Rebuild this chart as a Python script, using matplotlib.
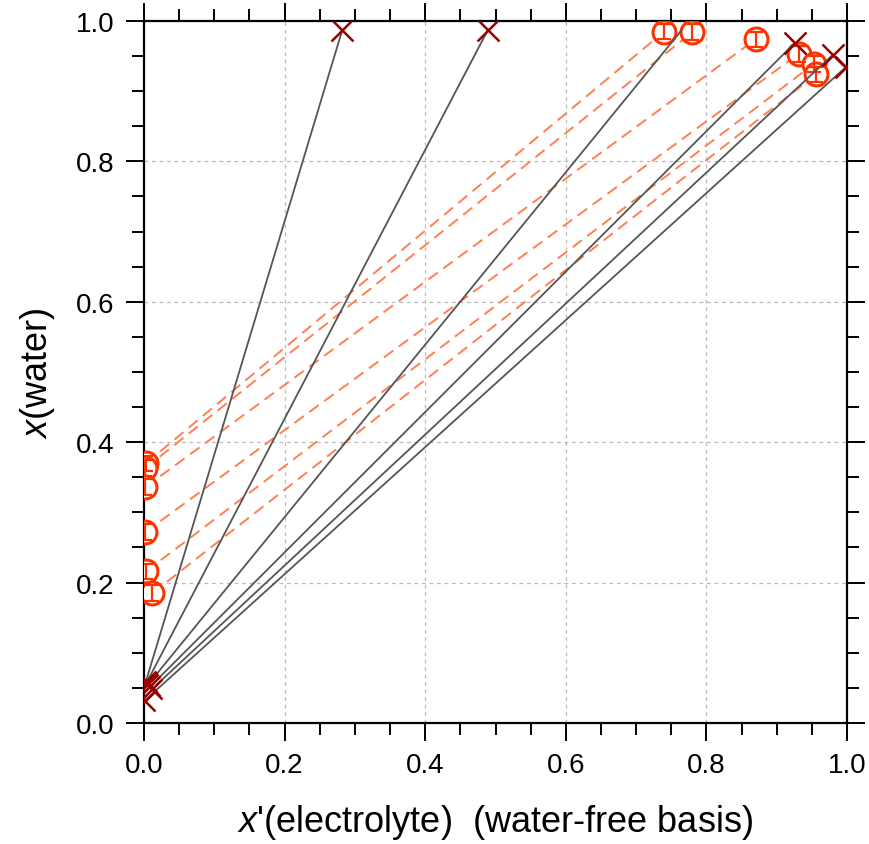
import numpy as np
import matplotlib
matplotlib.use('Agg')
import matplotlib.pyplot as plt

plt.rcParams['font.family'] = ['Liberation Sans', 'DejaVu Sans']
plt.rcParams['mathtext.fontset'] = 'custom'
plt.rcParams['mathtext.rm'] = 'Liberation Sans'
plt.rcParams['mathtext.it'] = 'Liberation Sans:italic'

# tie lines (grey, crosses): aqueous end -> organic end
tie_x_lo = [0.003, 0.004, 0.006, 0.009, 0.011, 0.001]
tie_y_lo = [0.060, 0.058, 0.055, 0.052, 0.048, 0.032]
tie_x_hi = [0.282, 0.489, 0.764, 0.926, 0.980, 0.998]
tie_y_hi = [0.987, 0.987, 0.986, 0.969, 0.952, 0.934]
top_cross = [True, True, False, True, True, True]

# measured tie lines (orange dashed, circles with error bars)
exp_x_lo = [0.003, 0.002, 0.002, 0.002, 0.003, 0.012]
exp_y_lo = [0.370, 0.363, 0.336, 0.272, 0.216, 0.185]
exp_x_hi = [0.740, 0.780, 0.870, 0.931, 0.953, 0.956]
exp_y_hi = [0.985, 0.984, 0.974, 0.953, 0.939, 0.924]
y_err = 0.011

fig = plt.figure(figsize=(8.69, 8.45), dpi=100)
ax = fig.add_axes([0.1657, 0.1432, 0.809, 0.8308])

# dashed experimental tie lines
for i in range(len(exp_x_lo)):
    ax.plot([exp_x_lo[i], exp_x_hi[i]], [exp_y_lo[i], exp_y_hi[i]],
            color='#ff7f50', lw=1.4, ls=(0, (6, 3.5)), zorder=2)

exp_x = exp_x_lo + exp_x_hi
exp_y = exp_y_lo + exp_y_hi
ax.plot(exp_x, exp_y, 'o', ms=16.5, mfc='white', mec='#ff3300', mew=2.2,
        zorder=3)
ax.errorbar(exp_x, exp_y, yerr=y_err, fmt='none', ecolor='#ff3300',
            elinewidth=1.6, capsize=5, capthick=1.6, zorder=3.5)

# calculated tie lines
for i in range(len(tie_x_lo)):
    ax.plot([tie_x_lo[i], tie_x_hi[i]], [tie_y_lo[i], tie_y_hi[i]],
            color='#555555', lw=1.3, zorder=4)

ax.plot(tie_x_lo, tie_y_lo, 'x', color='#990000', ms=14, mew=1.8, zorder=5)
ax.plot([x for x, s in zip(tie_x_hi, top_cross) if s],
        [y for y, s in zip(tie_y_hi, top_cross) if s],
        'x', color='#990000', ms=16, mew=1.8, zorder=5)

ax.set_xlim(0, 1)
ax.set_ylim(0, 1)
ax.set_xticks(np.arange(0, 1.01, 0.2))
ax.set_yticks(np.arange(0, 1.01, 0.2))
ax.set_xticks(np.arange(0, 1.01, 0.05), minor=True)
ax.set_yticks(np.arange(0, 1.01, 0.05), minor=True)
ax.grid(True, which='major', color='#bbbbbb', ls=(0, (3, 3)), lw=0.9)
ax.set_axisbelow(True)

for s in ax.spines.values():
    s.set_linewidth(1.6)

ax.tick_params(which='both', direction='out', top=True, right=True,
               width=1.4, labelsize=20, pad=8)
ax.tick_params(which='major', length=13)
ax.tick_params(which='minor', length=8.5)

ax.set_xlabel(r"$x$'(electrolyte)  (water-free basis)", fontsize=26, labelpad=17)
ax.set_ylabel(r"$x$(water)", fontsize=26, labelpad=14)

fig.savefig('out.png', dpi=100)
